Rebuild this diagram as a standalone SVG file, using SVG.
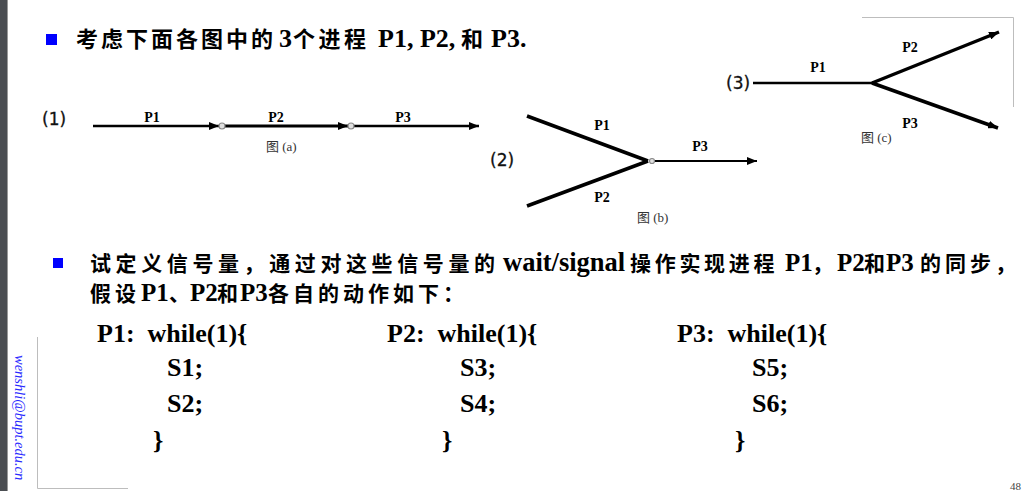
<svg xmlns="http://www.w3.org/2000/svg" width="1024" height="491" viewBox="0 0 1024 491">
<defs>
<style>
.cjkb{font-family:"Liberation Serif","Noto Sans CJK SC",serif;font-weight:bold;fill:#000}
.lbl{font-family:"Liberation Serif",serif;font-weight:bold;font-size:14px;fill:#000}
.num{font-family:"DejaVu Sans","Liberation Sans",sans-serif;font-size:17px;fill:#111;stroke:#111;stroke-width:0.3}
.cap{font-family:"Liberation Serif","Noto Sans CJK SC",serif;font-size:13px;fill:#333}
.code{font-family:"Liberation Serif",serif;font-weight:bold;font-size:26px;fill:#000;white-space:pre}
.ln{stroke:#000;fill:none;stroke-linecap:butt}
.frame{stroke:#bdbdbd;stroke-width:1;fill:none}
.node{fill:#e0e0e0;stroke:#888;stroke-width:1.2}
</style>
<marker id="ah" markerUnits="userSpaceOnUse" markerWidth="10" markerHeight="8" refX="10" refY="4" orient="auto">
<path d="M0,0 L10,4 L0,8 z" fill="#000"/>
</marker>
</defs>
<rect x="0" y="0" width="1024" height="491" fill="#fff"/>
<rect x="0" y="0" width="7" height="491" fill="#4b4e52"/>
<rect x="7" y="0" width="1" height="491" fill="#9a9a9a"/>
<path class="frame" d="M37.5,337 V488.5 H128"/>
<path class="frame" d="M862,17.5 H1013.5 V107"/>

<g id="title">
<rect x="46" y="34" width="11" height="11" fill="#0000ff"/>
<text class="cjkb" y="47"><tspan x="76" font-size="22" letter-spacing="3">考虑下面各图中的</tspan><tspan x="279" font-size="26">3</tspan><tspan x="293" font-size="22" letter-spacing="3.5">个进程 </tspan><tspan x="378" font-size="26">P1, P2, </tspan><tspan x="461" font-size="22">和 </tspan><tspan x="491" font-size="26">P3.</tspan></text>
</g>

<g id="connectors">
<line class="ln" x1="93" y1="126" x2="219" y2="126" stroke-width="2.5" marker-end="url(#ah)"/>
<line class="ln" x1="225" y1="126" x2="348" y2="126" stroke-width="3" marker-end="url(#ah)"/>
<line class="ln" x1="354" y1="126" x2="479" y2="126" stroke-width="2.5" marker-end="url(#ah)"/>
<line class="ln" x1="527" y1="116" x2="648" y2="161" stroke-width="3.5"/>
<line class="ln" x1="527" y1="206" x2="648" y2="161" stroke-width="3.5"/>
<line class="ln" x1="654" y1="161" x2="757" y2="161" stroke-width="2" marker-end="url(#ah)"/>
<line class="ln" x1="753" y1="83" x2="872" y2="83" stroke-width="2.5"/>
<line class="ln" x1="872" y1="83" x2="999" y2="32" stroke-width="3.5" marker-end="url(#ah)"/>
<line class="ln" x1="872" y1="83" x2="998" y2="128" stroke-width="3.5" marker-end="url(#ah)"/>
</g>

<g id="diagram-a">
<text class="num" x="42" y="125">(1)</text>
<circle class="node" cx="222" cy="126" r="3"/>
<circle class="node" cx="351" cy="126" r="3"/>
<text class="lbl" x="152" y="122" text-anchor="middle" font-size="15">P1</text>
<text class="lbl" x="276" y="122" text-anchor="middle" font-size="15">P2</text>
<text class="lbl" x="403" y="122" text-anchor="middle" font-size="15">P3</text>
<text class="cap" x="266" y="151">图 (a)</text>
</g>

<g id="diagram-b">
<text class="num" x="490" y="166">(2)</text>
<circle class="node" cx="652" cy="161" r="2.5"/>
<text class="lbl" x="602" y="130" text-anchor="middle">P1</text>
<text class="lbl" x="602" y="202" text-anchor="middle">P2</text>
<text class="lbl" x="700" y="151" text-anchor="middle">P3</text>
<text class="cap" x="637" y="222">图 (b)</text>
</g>

<g id="diagram-c">
<text class="num" x="726" y="89">(3)</text>
<text class="lbl" x="818" y="72" text-anchor="middle">P1</text>
<text class="lbl" x="910" y="52" text-anchor="middle">P2</text>
<text class="lbl" x="910" y="128" text-anchor="middle">P3</text>
<text class="cap" x="861" y="142">图 (c)</text>
</g>

<g id="question">
<rect x="53" y="258" width="10" height="10" fill="#0000ff"/>
<text class="cjkb" y="271"><tspan x="90" font-size="21" letter-spacing="4.6">试定义信号量，通过对这些信号量的</tspan><tspan x="503" font-size="26.5">wait/signal</tspan><tspan x="630" font-size="21" letter-spacing="3.7">操作实现进程 </tspan><tspan x="785" font-size="25">P1</tspan><tspan x="812" font-size="21">，</tspan><tspan x="837" font-size="25">P2</tspan><tspan x="864" font-size="21">和</tspan><tspan x="886" font-size="25">P3 </tspan><tspan x="920" font-size="21" letter-spacing="4">的同步，</tspan></text>
<text class="cjkb" y="301"><tspan x="90" font-size="21" letter-spacing="4">假设</tspan><tspan x="141" font-size="25">P1</tspan><tspan x="169" font-size="21">、</tspan><tspan x="190" font-size="25">P2</tspan><tspan x="217" font-size="21">和</tspan><tspan x="240" font-size="25">P3</tspan><tspan x="268" font-size="21" letter-spacing="4">各自的动作如下：</tspan></text>
</g>

<g id="code-p1">
<text class="code" x="97" y="342">P1:  while(1){</text>
<text class="code" x="167" y="376">S1;</text>
<text class="code" x="167" y="412">S2;</text>
<text class="code" x="153" y="449">}</text>
</g>
<g id="code-p2">
<text class="code" x="387" y="342">P2:  while(1){</text>
<text class="code" x="460" y="376">S3;</text>
<text class="code" x="460" y="412">S4;</text>
<text class="code" x="442" y="449">}</text>
</g>
<g id="code-p3">
<text class="code" x="677" y="342">P3:  while(1){</text>
<text class="code" x="752" y="376">S5;</text>
<text class="code" x="752" y="412">S6;</text>
<text class="code" x="735" y="449">}</text>
</g>

<text transform="translate(15,355) rotate(90)" font-family="Liberation Serif,serif" font-style="italic" font-size="14.5" fill="#2b2bff">wenshli@bupt.edu.cn</text>
<text x="1010" y="490" font-family="Liberation Serif,serif" font-size="11" fill="#444">48</text>
</svg>
